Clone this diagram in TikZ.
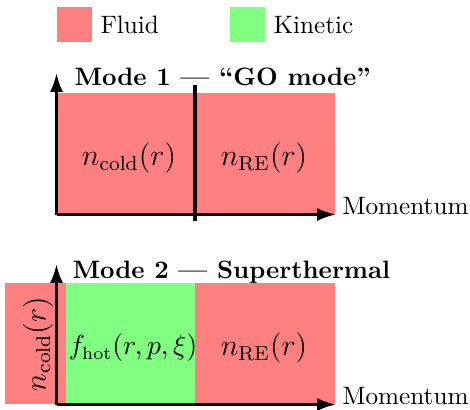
\documentclass[tikz,border=0pt]{standalone}
\usetikzlibrary{arrows.meta}
\definecolor{fluidred}{RGB}{255,128,128}
\definecolor{kingreen}{RGB}{128,255,128}
\begin{document}
\begin{tikzpicture}[x=0.397pt,y=-0.397pt,
  axis/.style={line width=1.2pt,-{Latex[length=7.5pt,width=5.2pt]}},
  divider/.style={line width=1.6pt},
  title/.style={font=\bfseries,anchor=base west,inner sep=0pt},
  axlabel/.style={anchor=base west,inner sep=0pt},
  biglab/.style={font=\large,inner sep=0pt},
  leglab/.style={anchor=west,inner sep=0pt}]
\useasboundingbox (0,0) rectangle (470,409);
% legend
\fill[fluidred] (57,7) rectangle (92,42);
\node[leglab] (lf) at (100,25) {Fluid};
\fill[kingreen] (230,7) rectangle (265,42);
\node[leglab] (lk) at (273,25) {Kinetic};
% Mode 1
\fill[fluidred] (57,93) rectangle (335,214);
\coordinate (o1) at (56.5,214.5);
\coordinate (y1) at (56.5,73);
\coordinate (x1) at (336,214.5);
\coordinate (d1t) at (195,85);
\coordinate (d1b) at (195,221);
\draw[divider] (d1t) -- (d1b);
\draw[axis] (o1) -- (y1);
\draw[axis] (o1) -- (x1);
\node[title] (t1) at (74,85) {Mode 1 --- ``GO mode''};
\node[biglab] (nc1) at (129,158) {$n_{\mathrm{cold}}(r)$};
\node[biglab] (nr1) at (264,158) {$n_{\mathrm{RE}}(r)$};
\node[axlabel] (m1) at (342,214) {Momentum};
% Mode 2
\fill[fluidred] (5,283) rectangle (335,404);
\fill[kingreen] (66,283) rectangle (195,404);
\coordinate (o2) at (56.5,404.5);
\coordinate (y2) at (56.5,264);
\coordinate (x2) at (336,404.5);
\draw[axis] (o2) -- (y2);
\draw[axis] (o2) -- (x2);
\node[title] (t2) at (72,278) {Mode 2 --- Superthermal};
\node[biglab,rotate=90] (nc2) at (38,344) {$n_{\mathrm{cold}}(r)$};
\node[inner sep=0pt,font=\fontsize{10.5}{12.5}\selectfont] (fh) at (133,348) {$f_{\mathrm{hot}}(r,p,\xi)$};
\node[biglab] (nr2) at (264,348) {$n_{\mathrm{RE}}(r)$};
\node[axlabel] (m2) at (342,404) {Momentum};
\end{tikzpicture}
\end{document}
